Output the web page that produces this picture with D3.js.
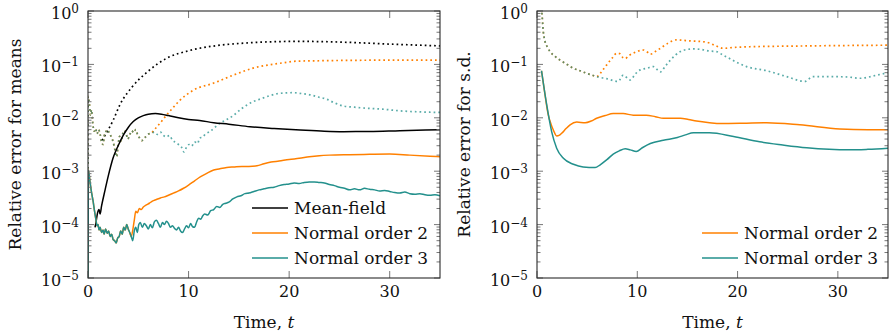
<!DOCTYPE html>
<html><head><meta charset="utf-8">
<script src="https://cdn.jsdelivr.net/npm/d3@7"></script>
<style>body{margin:0;background:#fff}svg{display:block}</style>
</head><body><svg id="c" width="893" height="336"></svg>
<script>
// ---------- tick labels / text ----------
const tickT = [0, 10, 20, 30];
const tickY = [1e0, 1e-1, 1e-2, 1e-3, 1e-4, 1e-5];
const tickYExp = ["0", "\u22121", "\u22122", "\u22123", "\u22124", "\u22125"];
const yTitleLeft = "Relative error for means";
const yTitleRight = "Relative error for s.d.";
const legendLeft = ["Mean-field", "Normal order 2", "Normal order 3"];
const legendRight = ["Normal order 2", "Normal order 3"];

// ---------- LEFT panel data: [t, relative error] ----------
const meanFieldSolid = [[0.7,8.9e-5],[0.8,1.12e-4],[0.95,1.66e-4],[1.1,1.91e-4],[1.2,1.58e-4],[1.35,2.24e-4],[1.7,4.47e-4],[2.0,7.9e-4],[2.5,1.78e-3],[3.0,3.0e-3],[3.5,4.68e-3],[4.0,6.6e-3],[4.5,8.5e-3],[5.0,1.0e-2],[5.5,1.1e-2],[6.0,1.17e-2],[6.7,1.2e-2],[7.3,1.17e-2],[8.0,1.1e-2],[9.0,1.0e-2],[10.0,9.3e-3],[11.1,8.9e-3],[12.5,8.1e-3],[14,7.6e-3],[16.1,6.8e-3],[18.5,6.3e-3],[21.1,5.9e-3],[23.5,5.6e-3],[25.4,5.5e-3],[28,5.55e-3],[31,5.75e-3],[35,6.0e-3]];
const meanFieldDotted = [[1.4,3.8e-3],[2.0,5.9e-3],[2.5,9.0e-3],[3.2,1.8e-2],[4.4,3.8e-2],[6.0,7.5e-2],[7.8,0.13],[10.0,0.18],[12.8,0.225],[15.5,0.25],[18.2,0.265],[21,0.27],[25,0.262],[30,0.24],[35,0.222]];
// shared early part of the noisy solid curves (orders 2 and 3 coincide)
const solidEarly = [[0,1e-7],[0.04,1.05e-3],[0.2,6.3e-4],[0.35,4.0e-4],[0.5,2.8e-4],[0.65,1.78e-4],[0.8,1.2e-4],[0.9,9.5e-5],[1.0,1.0e-4],[1.1,7.9e-5],[1.2,8.9e-5],[1.35,7.1e-5],[1.5,7.9e-5],[1.6,6.6e-5],[1.75,8.3e-5],[1.9,6.9e-5],[2.05,7.6e-5],[2.2,6.0e-5],[2.35,6.6e-5],[2.5,5.25e-5],[2.65,5.0e-5],[2.8,4.5e-5],[2.95,5.6e-5],[3.1,6.0e-5],[3.25,7.6e-5],[3.4,6.6e-5],[3.55,8.9e-5],[3.7,7.9e-5],[3.85,1.0e-4],[4.0,8.3e-5],[4.15,7.1e-5],[4.3,6.0e-5]];
const order2SolidLate = [[4.45,7.9e-5],[4.6,1.2e-4],[4.75,1.78e-4],[4.9,1.66e-4],[5.1,2.0e-4],[5.3,1.91e-4],[5.5,2.14e-4],[5.8,2.34e-4],[6.1,2.51e-4],[6.4,2.75e-4],[6.8,2.95e-4],[7.2,3.16e-4],[7.6,3.31e-4],[8.0,3.55e-4],[8.5,3.89e-4],[9.0,4.27e-4],[9.5,4.79e-4],[10.0,5.5e-4],[10.6,6.6e-4],[11.2,7.9e-4],[11.8,9.1e-4],[12.5,1.05e-3],[13.2,1.12e-3],[13.8,1.17e-3],[14.5,1.2e-3],[15.3,1.23e-3],[16.0,1.23e-3],[16.8,1.26e-3],[17.5,1.38e-3],[18.2,1.48e-3],[19.0,1.55e-3],[20.0,1.66e-3],[21.0,1.74e-3],[22.0,1.86e-3],[23.0,1.95e-3],[24.0,2.0e-3],[26.0,2.04e-3],[28.0,2.07e-3],[30.0,2.09e-3],[32.0,2.0e-3],[34.0,1.91e-3],[35.0,1.86e-3]];
const order3SolidLate = [[4.45,5.0e-5],[4.6,7.6e-5],[4.75,8.9e-5],[4.9,7.1e-5],[5.05,1.0e-4],[5.2,1.1e-4],[5.4,8.9e-5],[5.6,1.05e-4],[5.8,9.5e-5],[6.0,8.3e-5],[6.2,1.0e-4],[6.4,8.7e-5],[6.6,1.12e-4],[6.8,1.2e-4],[7.0,1.05e-4],[7.2,8.9e-5],[7.4,1.1e-4],[7.6,1.0e-4],[7.8,1.15e-4],[8.0,1.05e-4],[8.2,8.9e-5],[8.4,9.5e-5],[8.6,8.5e-5],[8.8,7.9e-5],[9.0,8.9e-5],[9.2,7.6e-5],[9.4,7.1e-5],[9.6,8.3e-5],[9.8,9.5e-5],[10.0,8.7e-5],[10.2,1.05e-4],[10.4,9.1e-5],[10.6,8.9e-5],[10.8,1.12e-4],[11.0,1.32e-4],[11.2,1.26e-4],[11.4,1.45e-4],[11.6,1.58e-4],[11.9,1.51e-4],[12.2,1.82e-4],[12.5,1.91e-4],[12.8,2.19e-4],[13.1,2.09e-4],[13.4,2.4e-4],[13.7,2.51e-4],[14.0,2.63e-4],[14.4,3.02e-4],[14.8,3.31e-4],[15.2,3.47e-4],[15.6,3.8e-4],[16.0,3.89e-4],[16.5,4.17e-4],[17.0,4.47e-4],[17.5,4.68e-4],[18.0,4.9e-4],[18.5,5.0e-4],[19.0,5.37e-4],[19.5,5.62e-4],[20.0,5.75e-4],[20.5,6.03e-4],[21.0,5.89e-4],[21.5,6.17e-4],[22.0,6.31e-4],[22.5,6.31e-4],[23.0,6.17e-4],[23.5,6.03e-4],[24.0,5.62e-4],[24.5,5.37e-4],[25.0,5.0e-4],[25.5,4.79e-4],[26.0,4.47e-4],[26.5,4.68e-4],[27.0,4.47e-4],[27.5,4.79e-4],[28.0,4.57e-4],[28.5,4.47e-4],[29.0,4.27e-4],[29.5,4.37e-4],[30.0,4.17e-4],[30.5,3.98e-4],[31.0,3.89e-4],[31.5,4.07e-4],[32.0,3.8e-4],[32.5,3.72e-4],[33.0,3.8e-4],[33.5,3.63e-4],[34.0,3.55e-4],[34.5,3.63e-4],[35.0,3.47e-4]];
// shared early part of the noisy dotted curves
const dottedEarly = [[0,1e-7],[0.02,2.5e-2],[0.15,1.78e-2],[0.25,1.12e-2],[0.35,1.41e-2],[0.45,8.9e-3],[0.6,5.6e-3],[0.75,6.3e-3],[0.9,5.0e-3],[1.05,6.0e-3],[1.2,5.0e-3],[1.35,3.55e-3],[1.5,3.16e-3],[1.65,5.0e-3],[1.8,5.6e-3],[1.95,6.0e-3],[2.1,5.25e-3],[2.3,4.47e-3],[2.5,3.55e-3],[2.7,2.4e-3],[2.85,1.86e-3],[3.0,3.16e-3],[3.15,4.47e-3],[3.3,3.55e-3],[3.45,5.0e-3],[3.6,5.75e-3],[3.8,5.0e-3],[3.95,3.98e-3],[4.15,4.79e-3],[4.35,5.75e-3],[4.55,5.25e-3],[4.75,6.0e-3],[4.95,4.68e-3],[5.15,4.17e-3],[5.35,3.72e-3],[5.55,4.17e-3],[5.8,4.47e-3],[6.05,5.0e-3],[6.3,5.13e-3]];
const order2DottedLate = [[6.6,6.0e-3],[7.16,7.9e-3],[7.8,1.12e-2],[8.5,1.58e-2],[9.15,2.14e-2],[10.5,3.3e-2],[12.5,4.47e-2],[14.45,6.3e-2],[16.4,8.5e-2],[19.1,0.105],[20.75,0.115],[23,0.117],[26,0.119],[30,0.12],[35,0.12]];
const order3DottedLate = [[6.6,5.4e-3],[6.9,4.9e-3],[7.2,5.4e-3],[7.5,4.68e-3],[7.8,4.37e-3],[8.1,4.68e-3],[8.4,3.8e-3],[8.7,3.47e-3],[9.0,3.16e-3],[9.3,2.82e-3],[9.55,2.29e-3],[9.8,2.82e-3],[10.05,3.16e-3],[10.3,2.95e-3],[10.6,3.55e-3],[10.9,3.31e-3],[11.1,4.17e-3],[11.4,4.37e-3],[11.7,5.0e-3],[12.1,5.5e-3],[12.6,6.6e-3],[13.1,7.9e-3],[13.8,9.3e-3],[14.5,1.12e-2],[15.2,1.45e-2],[15.8,1.74e-2],[16.4,2.0e-2],[17.1,2.24e-2],[18.0,2.57e-2],[18.8,2.82e-2],[19.6,2.92e-2],[20.4,2.95e-2],[21.2,2.85e-2],[22.1,2.69e-2],[22.9,2.45e-2],[23.7,2.24e-2],[24.5,1.91e-2],[25.4,1.66e-2],[26.5,1.58e-2],[27.7,1.51e-2],[29.3,1.45e-2],[31,1.35e-2],[33,1.29e-2],[35,1.26e-2]];

// ---------- RIGHT panel data ----------
const sdDottedEarly = [[0.4,1.12],[0.47,0.977],[0.63,0.407],[0.8,0.269],[1.05,0.209],[1.3,0.174],[1.8,0.141],[2.3,0.120],[3.0,0.100],[3.6,0.085],[4.3,0.076],[4.95,0.068],[5.5,0.063],[5.95,0.059]];
const sdOrder2DottedLate = [[6.5,0.076],[6.95,0.098],[7.5,0.132],[7.95,0.162],[8.3,0.158],[8.6,0.132],[8.8,0.129],[9.2,0.148],[9.6,0.162],[10.1,0.178],[10.6,0.186],[11.0,0.17],[11.3,0.155],[11.8,0.174],[12.3,0.2],[13.0,0.245],[13.9,0.288],[14.6,0.282],[15.3,0.275],[16.3,0.269],[17.2,0.251],[17.8,0.224],[18.6,0.2],[19.5,0.207],[21.2,0.214],[23.5,0.218],[26.2,0.221],[30,0.225],[35,0.229]];
const sdOrder3DottedLate = [[6.95,0.054],[8.1,0.048],[8.6,0.063],[9.3,0.051],[9.8,0.066],[10.3,0.079],[11.0,0.085],[11.6,0.091],[12.3,0.072],[12.8,0.093],[13.3,0.120],[14.3,0.174],[15.0,0.191],[15.6,0.195],[16.3,0.191],[17.2,0.178],[17.9,0.174],[18.5,0.151],[19.2,0.129],[20.0,0.107],[20.9,0.091],[22.9,0.076],[24.9,0.059],[26.7,0.048],[27.5,0.059],[29.5,0.059],[31,0.058],[32.2,0.055],[33.9,0.063],[35,0.07]];
const sdOrder2Solid = [[0.45,0.076],[0.8,0.0269],[1.13,0.0112],[1.4,7.6e-3],[1.63,5.9e-3],[1.96,4.57e-3],[2.2,4.68e-3],[2.46,5.13e-3],[2.9,6.3e-3],[3.3,7.4e-3],[3.96,8.3e-3],[4.8,8.1e-3],[5.4,8.7e-3],[5.95,9.8e-3],[6.8,1.1e-2],[7.6,1.2e-2],[8.6,1.2e-2],[9.6,1.12e-2],[10.9,1.12e-2],[11.8,1.05e-2],[12.6,9.8e-3],[14.3,9.8e-3],[15.1,9.3e-3],[15.9,8.7e-3],[17.2,8.1e-3],[18.3,7.8e-3],[20.5,7.9e-3],[22.9,8.1e-3],[26.2,7.4e-3],[30.2,6.2e-3],[33,6.0e-3],[35,6.0e-3]];
const sdOrder3Solid = [[0.45,0.076],[0.97,0.0174],[1.46,5.5e-3],[1.96,2.7e-3],[2.63,1.74e-3],[3.63,1.35e-3],[4.6,1.2e-3],[5.8,1.17e-3],[6.3,1.32e-3],[7.0,1.66e-3],[7.6,2.09e-3],[8.2,2.4e-3],[8.8,2.63e-3],[9.3,2.51e-3],[9.9,2.34e-3],[10.5,2.75e-3],[11.3,3.3e-3],[12.6,3.8e-3],[14.0,4.27e-3],[14.8,4.79e-3],[15.6,5.25e-3],[17.2,5.25e-3],[19.6,4.47e-3],[22.2,3.55e-3],[24.5,3.1e-3],[26.9,2.75e-3],[31.2,2.51e-3],[33,2.57e-3],[35,2.7e-3]];

// ---------- drawing ----------
const C_BLACK = "#000", C_ORANGE = "#ff8000", C_TEAL = "#23908c";
const FONT = "DejaVu Serif";
const svg = d3.select("#c");
const Y0 = 11, Y1 = 278;

function panel(id, x0, x1, yTitle, series, legend, legendX, legendRows) {
  const x = d3.scaleLinear().domain([0, 35]).range([x0, x1]);
  const y = d3.scaleLog().domain([1e-5, 1]).range([Y1, Y0]);
  const g = svg.append("g");
  g.append("clipPath").attr("id", id).append("rect")
    .attr("x", x0).attr("y", Y0).attr("width", x1 - x0).attr("height", Y1 - Y0);
  const line = d3.line().x(d => x(d[0])).y(d => y(d[1])).curve(d3.curveMonotoneX);
  const plot = g.append("g").attr("clip-path", `url(#${id})`);
  series.forEach(s => {
    plot.append("path").attr("d", line(s.data)).attr("fill", "none")
      .attr("stroke", s.color).attr("stroke-width", s.dotted ? 1.7 : 1.5)
      .attr("stroke-dasharray", s.dotted ? "1.7,3" : null)
      .attr("stroke-opacity", s.opacity || 1)
      .attr("stroke-linejoin", "round");
  });
  // minor + major y ticks (both sides, inward)
  const minors = [];
  for (let e = -5; e < 0; e++) for (let m = 2; m <= 9; m++) minors.push(m * Math.pow(10, e));
  const tk = g.append("g").attr("stroke", "#777").attr("stroke-width", 1);
  minors.forEach(v => {
    tk.append("line").attr("x1", x0).attr("x2", x0 + 3.5).attr("y1", y(v)).attr("y2", y(v));
    tk.append("line").attr("x1", x1).attr("x2", x1 - 3.5).attr("y1", y(v)).attr("y2", y(v));
  });
  tickY.forEach(v => {
    tk.append("line").attr("x1", x0).attr("x2", x0 + 6).attr("y1", y(v)).attr("y2", y(v));
    tk.append("line").attr("x1", x1).attr("x2", x1 - 6).attr("y1", y(v)).attr("y2", y(v));
  });
  tickT.forEach(v => {
    tk.append("line").attr("x1", x(v)).attr("x2", x(v)).attr("y1", Y1).attr("y2", Y1 - 7);
    tk.append("line").attr("x1", x(v)).attr("x2", x(v)).attr("y1", Y0).attr("y2", Y0 + 7);
  });
  // frame
  g.append("rect").attr("x", x0).attr("y", Y0).attr("width", x1 - x0).attr("height", Y1 - Y0)
    .attr("fill", "none").attr("stroke", "#2a2a2a").attr("stroke-width", 1.1);
  // y tick labels
  tickY.forEach((v, i) => {
    const t = g.append("text").attr("x", x0 - 9).attr("y", y(v) + 8)
      .attr("text-anchor", "end").attr("font-family", FONT).attr("font-size", 16).attr("fill", "#111");
    t.append("tspan").text("10");
    t.append("tspan").attr("dy", -6).attr("font-size", 12).text(tickYExp[i]);
  });
  // x tick labels
  tickT.forEach(v => {
    g.append("text").attr("x", x(v)).attr("y", 297).attr("text-anchor", "middle")
      .attr("font-family", FONT).attr("font-size", 16).attr("fill", "#111").text(v);
  });
  // x title
  const xt = g.append("text").attr("x", (x0 + x1) / 2).attr("y", 328).attr("text-anchor", "middle")
    .attr("font-family", FONT).attr("font-size", 17).attr("fill", "#111");
  xt.append("tspan").text("Time, ");
  xt.append("tspan").attr("font-style", "italic").text("t");
  // y title
  g.append("text").attr("transform", `translate(${x0 - 67},${(Y0 + Y1) / 2}) rotate(-90)`)
    .attr("text-anchor", "middle").attr("font-family", FONT).attr("font-size", 17).attr("fill", "#111")
    .text(yTitle);
  // legend
  legend.forEach((L, i) => {
    const ly = legendRows[i];
    g.append("line").attr("x1", legendX).attr("x2", legendX + 36).attr("y1", ly).attr("y2", ly)
      .attr("stroke", L.color).attr("stroke-width", 1.6);
    g.append("text").attr("x", legendX + 42).attr("y", ly + 6).attr("font-family", FONT)
      .attr("font-size", 17).attr("fill", "#111").text(L.label);
  });
}

panel("clipL", 88, 440, yTitleLeft, [
  { data: meanFieldDotted, color: C_BLACK, dotted: true },
  { data: dottedEarly.concat(order2DottedLate), color: C_ORANGE, dotted: true },
  { data: dottedEarly.concat(order3DottedLate), color: C_TEAL, dotted: true, opacity: 0.75 },
  { data: meanFieldSolid, color: C_BLACK },
  { data: solidEarly.concat(order2SolidLate), color: C_ORANGE },
  { data: solidEarly.concat(order3SolidLate), color: C_TEAL }
], [
  { label: legendLeft[0], color: C_BLACK },
  { label: legendLeft[1], color: C_ORANGE },
  { label: legendLeft[2], color: C_TEAL }
], 252, [208, 233, 258]);

panel("clipR", 537, 888, yTitleRight, [
  { data: sdDottedEarly.concat(sdOrder2DottedLate), color: C_ORANGE, dotted: true },
  { data: sdDottedEarly.concat(sdOrder3DottedLate), color: C_TEAL, dotted: true, opacity: 0.75 },
  { data: sdOrder2Solid, color: C_ORANGE },
  { data: sdOrder3Solid, color: C_TEAL }
], [
  { label: legendRight[0], color: C_ORANGE },
  { label: legendRight[1], color: C_TEAL }
], 702, [233, 258]);
</script>
</body></html>
